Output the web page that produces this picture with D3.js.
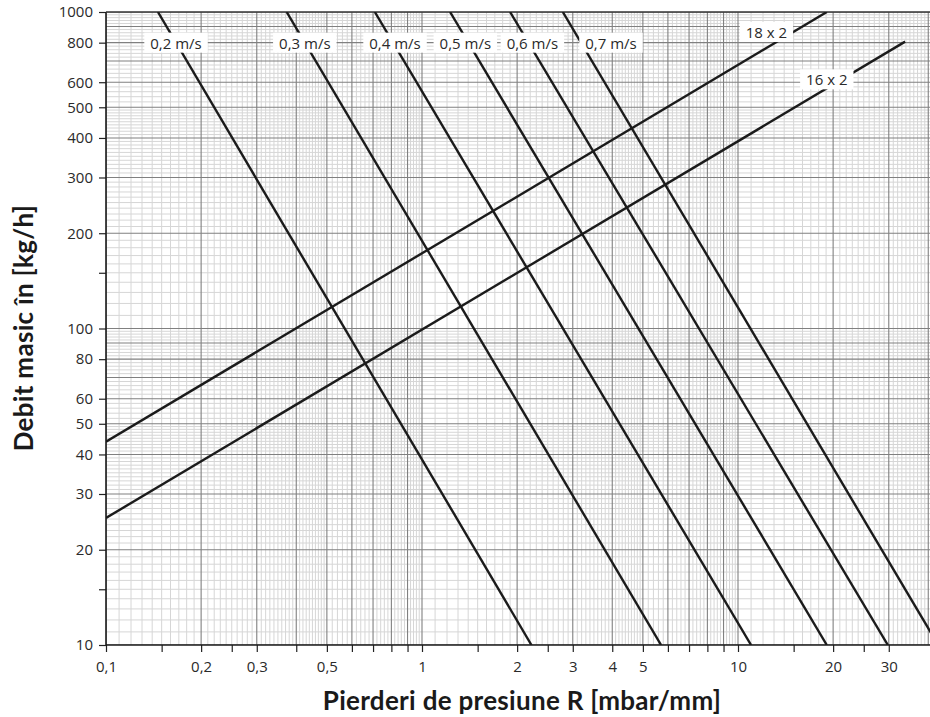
<!DOCTYPE html>
<html>
<head>
<meta charset="utf-8">
<script src="https://cdn.jsdelivr.net/npm/d3@7"></script>
<style>
  html, body { margin: 0; padding: 0; background: #fff; }
  svg { display: block; }
  .tick text { font-family: "Open Sans", sans-serif; font-size: 15px; fill: #2a2a2a; }
  .title { font-family: Lato, sans-serif; font-weight: bold; font-size: 26px; letter-spacing: 0.3px; fill: #1a1a1a; }
  .lbl { font-family: "Open Sans", sans-serif; font-size: 15px; fill: #2a2a2a; }
</style>
</head>
<body>
<svg id="chart" width="930" height="717"></svg>
<script>
// Pressure loss R [mbar/mm] (x) and mass flow [kg/h] (y), both log scales
const xTickValues = [0.1, 0.15, 0.2, 0.25, 0.3, 0.4, 0.5, 0.6, 0.7, 0.8, 0.9, 1, 1.5, 2, 2.5, 3, 4, 5, 6, 7, 8, 9, 10, 15, 20, 25, 30];
const xTickLabels = { 0.1: "0,1", 0.2: "0,2", 0.3: "0,3", 0.5: "0,5", 1: "1", 2: "2", 3: "3", 4: "4", 5: "5", 10: "10", 20: "20", 30: "30" };
const yTickValues = [10, 15, 20, 30, 40, 50, 60, 80, 100, 150, 200, 300, 400, 500, 600, 800, 1000];
const yTickLabels = { 10: "10", 20: "20", 30: "30", 40: "40", 50: "50", 60: "60", 80: "80", 100: "100", 200: "200", 300: "300", 400: "400", 500: "500", 600: "600", 800: "800", 1000: "1000" };

// Constant-velocity lines: R where the line meets 1000 kg/h and 10 kg/h
const velocityNames = ["0,2 m/s", "0,3 m/s", "0,4 m/s", "0,5 m/s", "0,6 m/s", "0,7 m/s"];
const velocityRAt1000 = [0.146, 0.373, 0.709, 1.227, 1.90, 2.79];
const velocityRAt10 = [2.22, 5.71, 11.0, 19.1, 29.8, 43.0];

// Pipe dimension lines: start and end points (R, mass flow)
const pipeNames = ["18 x 2", "16 x 2"];
const pipeStartR = [0.1, 0.1];
const pipeStartM = [43.9, 25.2];
const pipeEndR = [19.1, 33.8];
const pipeEndM = [1000, 806];

const svg = d3.select("#chart");
const plotL = 106, plotR = 930, plotT = 12, plotB = 645;

const x = d3.scaleLog().domain([0.1, 10]).range([plotL, 738]);
const y = d3.scaleLog().domain([10, 1000]).range([plotB, plotT]);
const xMax = x.invert(plotR);

svg.append("defs").append("clipPath").attr("id", "plot")
  .append("rect").attr("x", plotL).attr("y", plotT).attr("width", plotR - plotL).attr("height", plotB - plotT);

// Grid values per decade: fine lines and main lines
function fineSteps(lo, hi) {
  const out = [];
  for (let d = lo; d < hi * 1.0001; d *= 10) {
    for (let k = 1.1; k < 1.95; k += 0.1) out.push(+(k * d).toPrecision(6));
    for (let k = 2.1; k < 4.95; k += 0.1) if (Math.abs(k - Math.round(k)) > 0.01) out.push(+(k * d).toPrecision(6));
    for (let k = 5.2; k < 9.95; k += 0.2) if (Math.abs(k - Math.round(k)) > 0.01) out.push(+(k * d).toPrecision(6));
  }
  return out;
}
function mainSteps(lo, hi) {
  const out = [];
  for (let d = lo; d < hi * 1.0001; d *= 10) for (let k = 1; k <= 9; k++) out.push(+(k * d).toPrecision(6));
  return out;
}

const grid = svg.append("g").attr("clip-path", "url(#plot)");
const xFine = fineSteps(0.1, 10).filter(v => v < xMax);
const yFine = fineSteps(10, 100).filter(v => v < 1000);
const xMain = mainSteps(0.1, 10).filter(v => v < xMax);
const yMain = mainSteps(10, 100).filter(v => v <= 1000).concat([1000]);

grid.selectAll(".vf").data(xFine).join("line")
  .attr("x1", d => x(d)).attr("x2", d => x(d)).attr("y1", plotT).attr("y2", plotB)
  .attr("stroke", "#d6d6d6").attr("stroke-width", 1);
grid.selectAll(".hf").data(yFine).join("line")
  .attr("y1", d => y(d)).attr("y2", d => y(d)).attr("x1", plotL).attr("x2", plotR)
  .attr("stroke", "#d6d6d6").attr("stroke-width", 1);
const gMain = svg.append("g").attr("clip-path", "url(#plot)");
gMain.selectAll(".vm").data(xMain).join("line")
  .attr("x1", d => x(d)).attr("x2", d => x(d)).attr("y1", plotT).attr("y2", plotB)
  .attr("stroke", "#808080").attr("stroke-width", 1.1);
gMain.selectAll(".hm").data(yMain).join("line")
  .attr("y1", d => y(d)).attr("y2", d => y(d)).attr("x1", plotL).attr("x2", plotR)
  .attr("stroke", "#808080").attr("stroke-width", 1.1);

// Axes
const xAxis = d3.axisBottom(x).tickValues(xTickValues)
  .tickFormat(d => xTickLabels[d] || "").tickSize(7).tickSizeOuter(0).tickPadding(9);
const yAxis = d3.axisLeft(y).tickValues(yTickValues)
  .tickFormat(d => yTickLabels[d] || "").tickSize(7).tickSizeOuter(0).tickPadding(6);

const gx = svg.append("g").attr("transform", `translate(0,${plotB})`).call(xAxis);
const gy = svg.append("g").attr("transform", `translate(${plotL},0)`).call(yAxis);
[gx, gy].forEach(g => {
  g.select(".domain").remove();
  g.selectAll(".tick line").attr("stroke", "#222").attr("stroke-width", 1.2);
});

svg.append("line").attr("x1", plotL).attr("x2", plotL).attr("y1", plotT).attr("y2", plotB + 0.5)
  .attr("stroke", "#1a1a1a").attr("stroke-width", 1.6);
svg.append("line").attr("x1", plotL).attr("x2", plotR).attr("y1", plotB).attr("y2", plotB)
  .attr("stroke", "#1a1a1a").attr("stroke-width", 1.6);
svg.append("line").attr("x1", plotL).attr("x2", plotR).attr("y1", plotT).attr("y2", plotT)
  .attr("stroke", "#333").attr("stroke-width", 1.4);

// Curves
const line = d3.line().x(d => x(d[0])).y(d => y(d[1]));
const curves = svg.append("g").attr("clip-path", "url(#plot)");
const velocityLines = velocityNames.map((n, i) => [[velocityRAt1000[i], 1000], [velocityRAt10[i], 10]]);
const pipeLines = pipeNames.map((n, i) => [[pipeStartR[i], pipeStartM[i]], [pipeEndR[i], pipeEndM[i]]]);
curves.selectAll(".vel").data(velocityLines).join("path")
  .attr("d", line).attr("fill", "none").attr("stroke", "#1b1b1b").attr("stroke-width", 2.4);
curves.selectAll(".pipe").data(pipeLines).join("path")
  .attr("d", line).attr("fill", "none").attr("stroke", "#1b1b1b").attr("stroke-width", 2.4);

// Position along a straight log-log segment
function rAtM(seg, m) {
  const [a, b] = seg;
  const t = (Math.log(m) - Math.log(a[1])) / (Math.log(b[1]) - Math.log(a[1]));
  return Math.exp(Math.log(a[0]) + t * (Math.log(b[0]) - Math.log(a[0])));
}
function mAtR(seg, r) {
  const [a, b] = seg;
  const t = (Math.log(r) - Math.log(a[0])) / (Math.log(b[0]) - Math.log(a[0]));
  return Math.exp(Math.log(a[1]) + t * (Math.log(b[1]) - Math.log(a[1])));
}

function boxLabel(text, cx, cy) {
  const g = svg.append("g");
  const rect = g.append("rect").attr("fill", "#fff");
  const t = g.append("text").attr("class", "lbl").attr("x", cx).attr("y", cy)
    .attr("text-anchor", "middle").attr("dominant-baseline", "central").text(text);
  const w = t.node().getComputedTextLength() + 12;
  rect.attr("x", cx - w / 2).attr("y", cy - 10).attr("width", w).attr("height", 20);
}

// Velocity labels on the 800 kg/h line
const velShift = [0, 0, 2, -3, 4, 30];
velocityLines.forEach((seg, i) => {
  boxLabel(velocityNames[i], x(rAtM(seg, 800)) + velShift[i], y(800));
});

// Pipe labels just above their lines
const pipeSpot = [{ r: 12.3, dy: -16 }, { r: 19.1, dy: -9 }];
pipeLines.forEach((seg, i) => {
  const s = pipeSpot[i];
  boxLabel(pipeNames[i], x(s.r), y(mAtR(seg, s.r)) + s.dy);
});

// Axis titles
svg.append("text").attr("class", "title").attr("x", 522).attr("y", 710)
  .attr("text-anchor", "middle").text("Pierderi de presiune R [mbar/mm]");
svg.append("text").attr("class", "title").attr("transform", "translate(33,328) rotate(-90)")
  .attr("text-anchor", "middle").text("Debit masic în [kg/h]");
</script>
</body>
</html>
